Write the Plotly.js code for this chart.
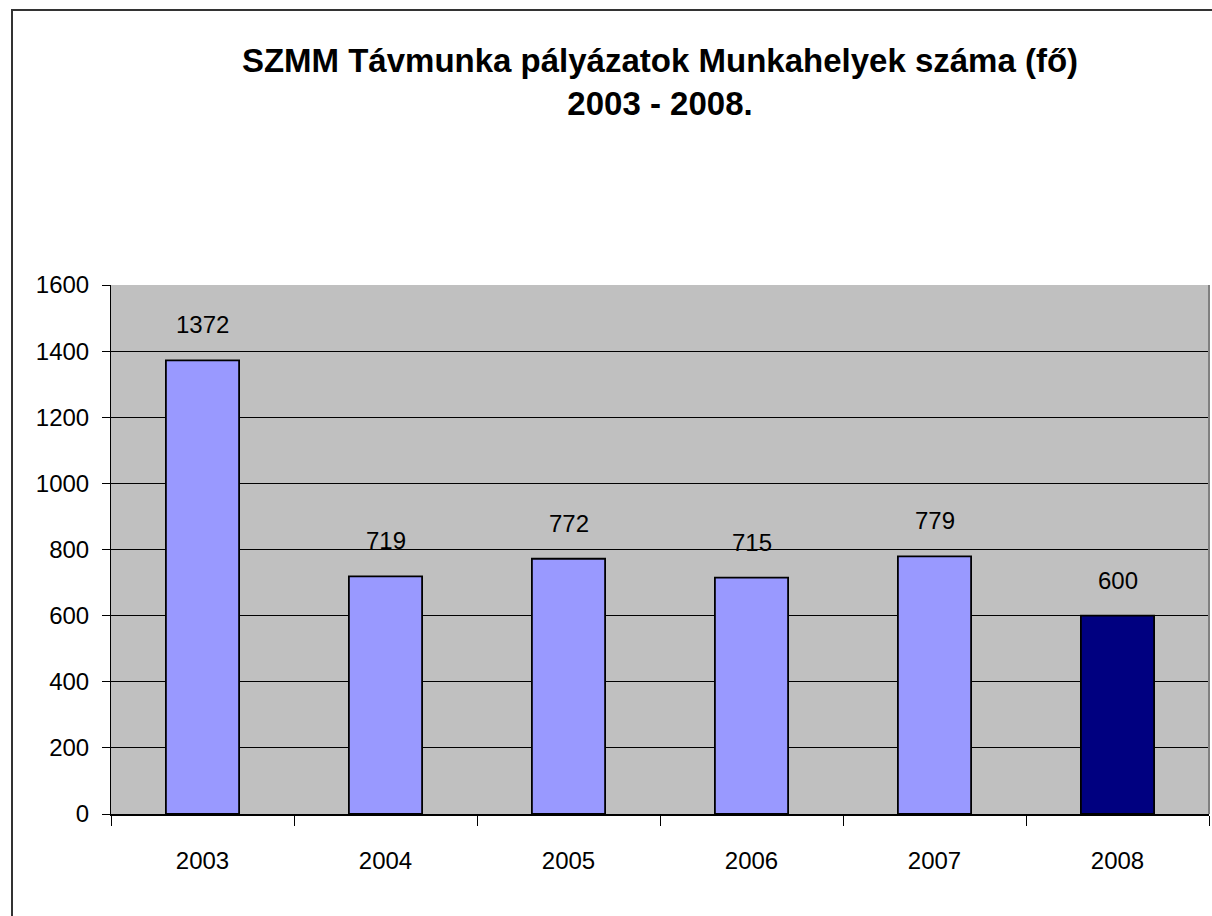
<!DOCTYPE html>
<html>
<head>
<meta charset="utf-8">
<script src="https://cdn.plot.ly/plotly-3.0.1.min.js"></script>
<style>
  html, body { margin: 0; padding: 0; background: #ffffff; }
  #wrap { position: relative; width: 1212px; height: 916px; overflow: hidden; }
  #chart { position: absolute; left: 0; top: 0; width: 1212px; height: 916px; }
  #frame { position: absolute; left: 11px; top: 9px; width: 1250px; height: 1000px;
           border-top: 2px solid #333333; border-left: 2px solid #333333; pointer-events: none; }
</style>
</head>
<body>
<div id="wrap">
  <div id="chart"></div>
  <div id="frame"></div>
</div>
<script>
const years = ['2003', '2004', '2005', '2006', '2007', '2008'];
const jobs = [1372, 719, 772, 715, 779, 600];
const barColors = ['#9999FF', '#9999FF', '#9999FF', '#9999FF', '#9999FF', '#000080'];
const yTicks = [0, 200, 400, 600, 800, 1000, 1200, 1400, 1600];
const titleText = 'SZMM Távmunka pályázatok Munkahelyek száma (fő)<br>2003 - 2008.';

const fontFam = '"Liberation Sans", Arial, sans-serif';

const trace = {
  type: 'bar',
  x: years,
  y: jobs,
  marker: { color: barColors, line: { color: '#000000', width: 1.8 } },
  hoverinfo: 'skip'
};

// annotations use the category index so numeric-looking labels are not read as positions
const annotations = years.map((yr, i) => ({
  x: i, y: jobs[i], xref: 'x', yref: 'y',
  text: String(jobs[i]), showarrow: false,
  yanchor: 'bottom', yshift: 20,
  font: { family: fontFam, size: 24, color: '#000000' }
}));

const layout = {
  width: 1212, height: 916,
  margin: { l: 111, r: 3, t: 285, b: 102, pad: 0 },
  paper_bgcolor: '#ffffff',
  plot_bgcolor: '#C0C0C0',
  showlegend: false,
  bargap: 0.6,
  title: {
    text: titleText,
    font: { family: fontFam, size: 33, color: '#000000', weight: 'bold' },
    x: 0.5, xanchor: 'center', xref: 'paper',
    y: 0.921, yanchor: 'top', yref: 'container'
  },
  xaxis: {
    type: 'category',
    categoryorder: 'array', categoryarray: years,
    range: [-0.5, years.length - 0.5],
    tickson: 'boundaries',
    ticks: 'outside', ticklen: 10, tickwidth: 1, tickcolor: '#000000',
    showline: true, linecolor: '#000000', linewidth: 1.5,
    showgrid: false,
    tickangle: 0,
    ticklabelstandoff: 25,
    tickfont: { family: fontFam, size: 24, color: '#000000' },
    fixedrange: true
  },
  yaxis: {
    range: [0, 1600],
    tickvals: yTicks,
    ticktext: yTicks.map(String),
    ticks: 'outside', ticklen: 8, tickwidth: 1, tickcolor: '#000000',
    showline: true, linecolor: '#000000', linewidth: 1,
    showgrid: true, gridcolor: '#000000', gridwidth: 1,
    zeroline: false,
    ticklabelstandoff: 8,
    tickfont: { family: fontFam, size: 24, color: '#000000' },
    fixedrange: true
  },
  shapes: [
    { type: 'line', xref: 'paper', yref: 'paper', x0: 1, x1: 1, y0: 0, y1: 1,
      line: { color: '#808080', width: 2 } }
  ],
  annotations: annotations
};

Plotly.newPlot('chart', [trace], layout, { displayModeBar: false, staticPlot: true });
</script>
</body>
</html>
